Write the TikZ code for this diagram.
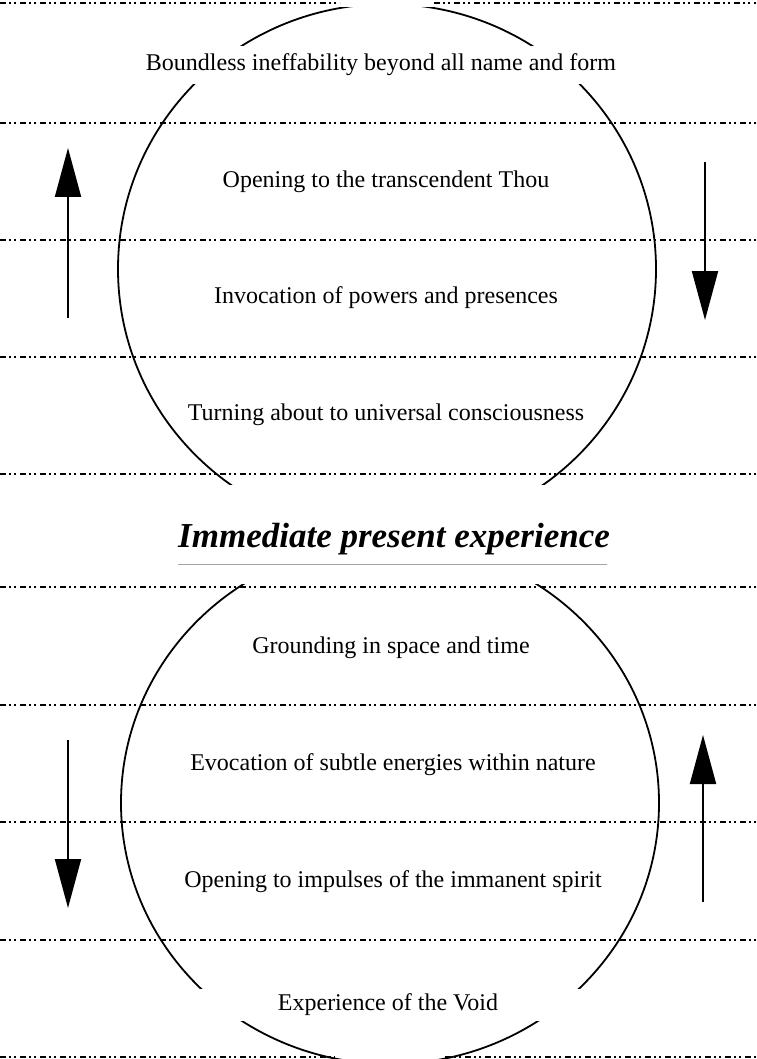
\documentclass[tikz,border=0pt]{standalone}
\usepackage{fontspec}
\setmainfont{Liberation Serif}
\usetikzlibrary{arrows.meta}

\tikzset{
  level/.style={line width=1.5pt, dash pattern=on 6pt off 3pt on 2pt off 3pt on 2pt off 4pt},
  stage/.style={font=\fontsize{24}{28}\selectfont, inner sep=2pt},
  round/.style={line width=1.8pt},
  flow/.style={line width=2pt, -{Triangle[length=49pt,width=26pt]}},
}

\begin{document}
\begin{tikzpicture}[x=1pt, y=-1pt]
    \useasboundingbox (0,0) rectangle (756,1059);
    % dotted levels
    \foreach \y in {123,240,357,474,587,705,822,940}
      \draw [level] (0,\y) -- (756,\y);
    \draw [level] (0,3) -- (340,3) (434,3) -- (756,3);
    \draw [level] (0,1057) -- (335,1057) (445,1057) -- (756,1057);
    % the two rounds
    \begin{scope}
      \clip (0,8) rectangle (756,484);
      \draw [round] (387,269) ellipse [x radius=269, y radius=265];
    \end{scope}
    \begin{scope}
      \clip (0,584) rectangle (756,1059);
      \draw [round] (390,803) ellipse [x radius=269, y radius=261];
    \end{scope}
    % stages
    \node[stage, fill=white, inner ysep=8pt] (beyond) at (381,65) {Boundless ineffability beyond all name and form};
    \node[stage] (thou)    at (386,182) {Opening to the transcendent Thou};
    \node[stage] (invoke)  at (386,298) {Invocation of powers and presences};
    \node[stage] (turn)    at (386,415) {Turning about to universal consciousness};
    \node[font=\fontsize{35}{40}\selectfont\bfseries\itshape] (now) at (394,539) {Immediate present experience};
    \node[stage] (ground)  at (391,648) {Grounding in space and time};
    \node[stage] (evoke)   at (393,765) {Evocation of subtle energies within nature};
    \node[stage] (impulse) at (393,882) {Opening to impulses of the immanent spirit};
    \node[stage, fill=white, minimum width=400pt, inner ysep=5pt] (void) at (388,1005) {Experience of the Void};
    % rule under the title
    \coordinate (r0) at (178,564);
    \coordinate (r1) at (607,564);
    \draw [gray!70, line width=0.8pt] (r0) -- (r1);
    % directions
    \coordinate (ul0) at (68,318);  \coordinate (ul1) at (68,148);
    \coordinate (ur0) at (705,162); \coordinate (ur1) at (705,320);
    \coordinate (ll0) at (68,740);  \coordinate (ll1) at (68,908);
    \coordinate (lr0) at (703,902); \coordinate (lr1) at (703,735);
    \draw [flow] (ul0) -- (ul1);
    \draw [flow] (ur0) -- (ur1);
    \draw [flow] (ll0) -- (ll1);
    \draw [flow] (lr0) -- (lr1);
\end{tikzpicture}
\end{document}
